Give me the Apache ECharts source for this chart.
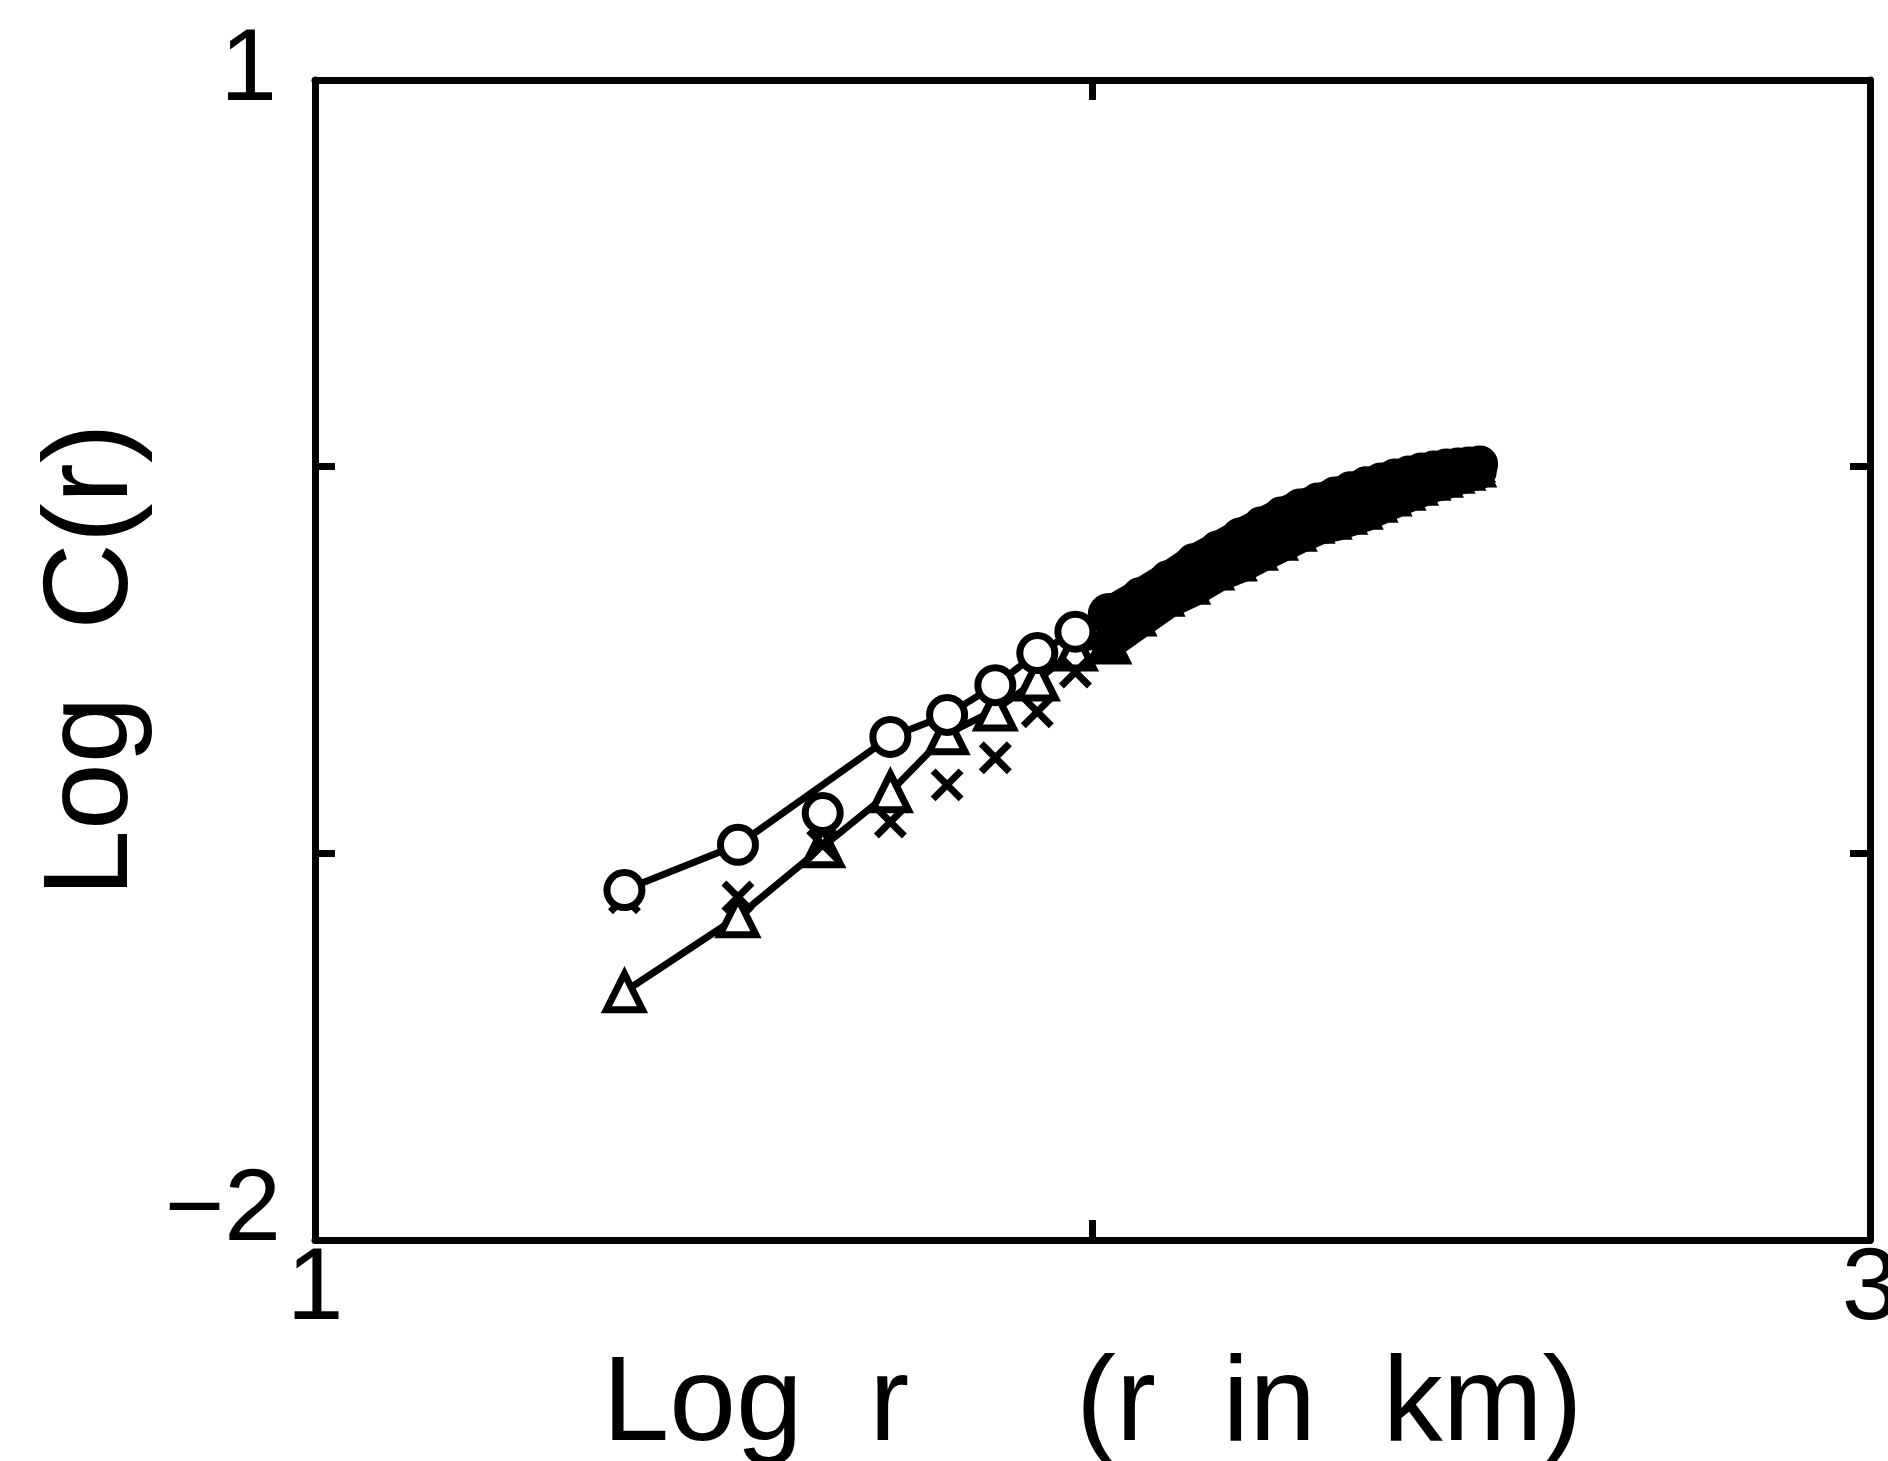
<!DOCTYPE html>
<html><head><meta charset="utf-8">
<script src="https://cdn.jsdelivr.net/npm/echarts@6/dist/echarts.min.js"></script>
<style>html,body{margin:0;padding:0;background:#fff}#c{width:1888px;height:1461px}</style>
</head><body><div id="c"></div>
<script>
// Log r (r in km)
const logR = [1.398, 1.544, 1.653, 1.740, 1.813, 1.875, 1.929, 1.978, 2.021, 2.061,
              2.097, 2.130, 2.161, 2.190, 2.217, 2.243, 2.267, 2.290, 2.312, 2.332,
              2.352, 2.371, 2.389, 2.407, 2.423, 2.439, 2.455, 2.470, 2.484, 2.498];
// Log C(r) — circles (joined by a line; the r=45 point is drawn unjoined)
const circleLogC = [-1.095, -0.978, null, -0.699, -0.642, -0.565, -0.482, -0.427, -0.381, -0.334,
                    -0.290, -0.246, -0.213, -0.179, -0.151, -0.125, -0.104, -0.089, -0.073, -0.060,
                    -0.047, -0.037, -0.027, -0.019, -0.011, -0.006, -0.001, 0.002, 0.004, 0.007];
const circleExtraLogR = [1.653];
const circleExtraLogC = [-0.896];
// Log C(r) — triangles (joined by a line)
const triangleLogC = [-1.358, -1.164, -0.983, -0.841, -0.691, -0.629, -0.552, -0.474, -0.456, -0.399,
                      -0.348, -0.317, -0.280, -0.257, -0.229, -0.203, -0.180, -0.159, -0.149, -0.136,
                      -0.123, -0.105, -0.089, -0.074, -0.061, -0.048, -0.040, -0.030, -0.022, -0.014];
// Log C(r) — crosses (no line)
const crossLogC = [-1.115, -1.113, -0.978, -0.919, -0.823, -0.753, -0.634, -0.531, -0.424, -0.372,
                   -0.324, -0.287, -0.252, -0.223, -0.195, -0.169, -0.147, -0.129, -0.116, -0.103,
                   -0.090, -0.076, -0.063, -0.052, -0.041, -0.032, -0.026, -0.019, -0.014, -0.009];
// tick labels
const xTickLabels = {'1': '1', '3': '3'};
const yTickLabels = {'1': '1', '-2': '\u22122'};

const FONT = 'Liberation Sans';
const BLACK = '#000';
const DENSE_FROM = 8;   // from this index on the marks merge into one solid band

const hollow = {color: '#fff', borderColor: BLACK, borderWidth: 7, opacity: 1};
const solid = {color: BLACK, borderColor: BLACK, borderWidth: 7, opacity: 1};
const pts = (xs, ys, from, to) => xs.slice(from, to).map((x, k) => {
  const y = ys[from + k];
  return {value: [x, y === null ? '-' : y], itemStyle: (from + k) >= DENSE_FROM ? solid : hollow};
});
const N = logR.length;

const chart = echarts.init(document.getElementById('c'), null, {renderer: 'canvas'});
const axisLine = {show: true, onZero: false, lineStyle: {color: BLACK, width: 7}};
const axisTick = {show: true, inside: true, length: 20, lineStyle: {color: BLACK, width: 7}};
const LABEL_SIZE = 102;
const thinLine = {color: BLACK, width: 7};
const bandLine = {color: BLACK, width: 34, cap: 'round', join: 'round'};

function lineSeries(name, ys, symbol, size, denseSize, z) {
  return [
    {type: 'line', name, data: pts(logR, ys, 0, DENSE_FROM + 1), symbol, symbolSize: size,
     showAllSymbol: true, connectNulls: true, lineStyle: thinLine, itemStyle: hollow, z},
    {type: 'line', name: name + ' (dense part)', data: pts(logR, ys, DENSE_FROM, N), symbol,
     symbolSize: denseSize, showAllSymbol: true, connectNulls: true, lineStyle: bandLine,
     itemStyle: solid, z}
  ];
}

chart.setOption({
  backgroundColor: '#fff',
  animation: false,
  grid: {left: 315, right: 18, top: 80, bottom: 221, containLabel: false, outerBoundsMode: 'none'},
  xAxis: [{
    type: 'value', min: 1, max: 3, interval: 1, position: 'bottom',
    axisLine, axisTick, splitLine: {show: false},
    axisLabel: {formatter: v => xTickLabels[String(v)] || '', fontSize: LABEL_SIZE, color: BLACK,
                fontFamily: FONT, margin: 0, showMinLabel: true, showMaxLabel: true},
    name: 'Log  r     (r  in  km)', nameLocation: 'middle', nameGap: 90,
    nameTextStyle: {fontSize: 120, fontFamily: FONT, color: BLACK}
  }, {
    type: 'value', min: 1, max: 3, interval: 1, position: 'top',
    axisLine, axisTick, splitLine: {show: false}, axisLabel: {show: false}
  }],
  yAxis: [{
    type: 'value', min: -2, max: 1, interval: 1, position: 'left',
    axisLine, axisTick, splitLine: {show: false},
    axisLabel: {
      formatter: v => {
        const t = yTickLabels[String(v)];
        if (!t) return '';
        return v === 1 ? '{a|' + t + '}' : '{b|' + t + '}';
      },
      margin: 34, color: BLACK, fontSize: LABEL_SIZE, fontFamily: FONT,
      showMinLabel: true, showMaxLabel: true,
      rich: {
        a: {fontSize: LABEL_SIZE, fontFamily: FONT, color: BLACK, padding: [0, 4, 16, 0]},
        b: {fontSize: LABEL_SIZE, fontFamily: FONT, color: BLACK, padding: [0, 0, 56, 0]}
      }
    },
    name: 'Log  C(r)', nameLocation: 'middle', nameGap: 156,
    nameTextStyle: {fontSize: 120, fontFamily: FONT, color: BLACK}
  }, {
    type: 'value', min: -2, max: 1, interval: 1, position: 'right',
    axisLine, axisTick, splitLine: {show: false}, axisLabel: {show: false}
  }],
  series: [
    ...lineSeries('triangles', triangleLogC, 'triangle', 36, 24, 3),
    {
      type: 'scatter', name: 'crosses', data: pts(logR, crossLogC, 0, N),
      symbol: 'path://M0,0L10,10M10,0L0,10', symbolSize: 28,
      itemStyle: {color: BLACK, borderColor: BLACK, borderWidth: 7, opacity: 1}, z: 4
    },
    ...lineSeries('circles', circleLogC, 'circle', 35, 30, 5),
    {
      type: 'scatter', name: 'circles (unjoined)',
      data: circleExtraLogR.map((x, i) => ({value: [x, circleExtraLogC[i]], itemStyle: hollow})),
      symbol: 'circle', symbolSize: 35, itemStyle: hollow, z: 5
    }
  ]
});
</script>
</body></html>
